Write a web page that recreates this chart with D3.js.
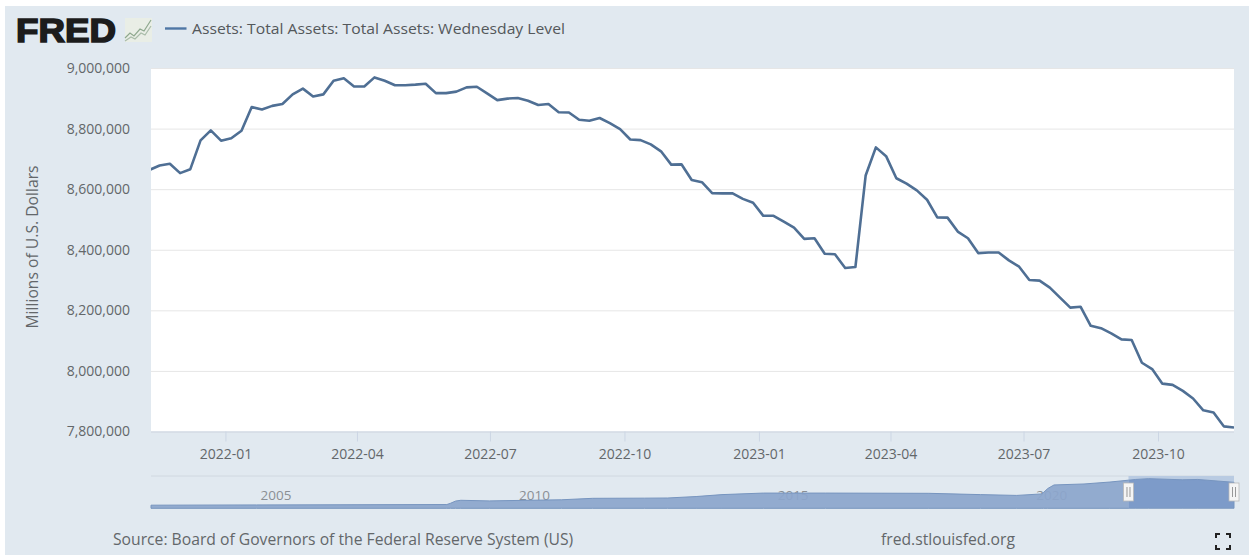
<!DOCTYPE html>
<html><head><meta charset="utf-8">
<script src="https://cdn.jsdelivr.net/npm/d3@7/dist/d3.min.js"></script>
<style>
html,body{margin:0;padding:0;background:#fff;overflow:hidden}
svg{display:block}
text{font-family:"Open Sans",sans-serif}
</style></head><body>
<svg id="c" width="1249" height="555"></svg>
<script>
// Weekly (Wednesday) level, millions of U.S. dollars, from 2021-11-10
const firstWeek = "2021-11-10";
const lastWeek = "2023-11-22";
const assets = [
8663600,8678000,8684000,8653000,8666000,8761000,8794000,8760000,8768000,8793000,
8871000,8863000,8875000,8881000,8913000,8932000,8906000,8913000,8958000,8966000,
8939000,8939000,8969000,8958000,8943000,8943000,8945000,8948000,8917000,8917000,
8922000,8936000,8938000,8916000,8894000,8899000,8901000,8892000,8878000,8881000,
8854000,8853000,8829000,8826000,8835000,8818000,8798000,8764000,8762000,8748000,
8725000,8681000,8682000,8630000,8623000,8587000,8586000,8586000,8568000,8555000,
8512000,8512000,8493000,8473000,8436000,8438000,8387000,8385000,8340000,8343000,
8645000,8738000,8709000,8636000,8618000,8596000,8565000,8507000,8506000,8460000,
8438000,8389000,8391000,8391000,8365000,8344000,8300000,8298000,8275000,8242000,
8209000,8212000,8149000,8141000,8124000,8104000,8102000,8027000,8006000,7958000,
7954000,7934000,7909000,7870000,7863000,7817000,7813000];
const yTicks = [7800000,8000000,8200000,8400000,8600000,8800000,9000000];
const xTickDates = ["2022-01-01","2022-04-01","2022-07-01","2022-10-01","2023-01-01","2023-04-01","2023-07-01","2023-10-01"];
// Navigator: long history, trillions of dollars
const navYears = [2002.96,2005,2008.68,2008.75,2008.85,2008.95,2009.5,2010.5,2010.9,2011.5,2012.5,2012.95,2013.5,2014,2014.8,2016,2018,2019,2019.7,2020.17,2020.22,2020.3,2020.42,2021,2021.5,2022,2022.25,2022.9,2023.2,2023.9];
const navValues = [0.72,0.80,0.92,1.3,2.0,2.24,2.05,2.3,2.4,2.85,2.9,2.95,3.4,4.0,4.48,4.48,4.4,4.0,3.75,4.2,4.7,5.9,7.0,7.3,7.9,8.7,8.95,8.6,8.7,7.81];
const navLabels = [2005,2010,2015,2020];
const navSelectedFrom = 2021.86;
const title = "Assets: Total Assets: Total Assets: Wednesday Level";
const yTitle = "Millions of U.S. Dollars";
const source = "Source: Board of Governors of the Federal Reserve System (US)";
const site = "fred.stlouisfed.org";

const svg = d3.select("#c");
const P = {l:151,r:1234,t:68,b:431.5};
const parse = d3.utcParse("%Y-%m-%d");
const weeks = d3.utcDay.range(parse(firstWeek), d3.utcDay.offset(parse(lastWeek),1), 7);
const x = d3.scaleUtc().domain([parse(firstWeek),parse(lastWeek)]).range([149.4,P.r]);
const y = d3.scaleLinear().domain([7800000,9000000]).range([P.b,P.t]);

const BG="#e1e9f0", TXT="#63676a";
svg.append("rect").attr("x",5).attr("y",6).attr("width",1244).attr("height",549).attr("fill",BG);
svg.append("rect").attr("x",P.l).attr("y",P.t).attr("width",P.r-P.l).attr("height",P.b-P.t).attr("fill","#fff");

// logo
svg.append("text").attr("x",16).attr("y",41.5)
  .style("font-family","'Liberation Sans',sans-serif")
  .attr("font-size",34).attr("font-weight",700).attr("fill","#1c1c1c").attr("stroke","#1c1c1c").attr("stroke-width",1.6)
  .attr("textLength",100).attr("lengthAdjust","spacingAndGlyphs").text("FRED");
const logo = svg.append("g").attr("transform","translate(125,18)");
logo.append("rect").attr("width",27).attr("height",24).attr("fill","#e9eee6");
logo.append("path").attr("d","M0 20 L5 15 L9 18 L15 11 L19 13 L26 2").attr("fill","none").attr("stroke","#8ea88e").attr("stroke-width",1.2);
logo.append("path").attr("d","M0 23 L6 19 L10 21 L16 15 L20 17 L26 8").attr("fill","none").attr("stroke","#a9bca9").attr("stroke-width",1.2);
svg.append("line").attr("x1",165).attr("x2",186.5).attr("y1",28.5).attr("y2",28.5).attr("stroke","#4f77a5").attr("stroke-width",2.4);
svg.append("text").attr("x",192).attr("y",34).attr("font-size",14.6).attr("font-weight",500).attr("fill","#54585b")
  .attr("textLength",373).attr("lengthAdjust","spacingAndGlyphs").text(title);

// y axis and grid
const gy = svg.append("g").attr("transform",`translate(${P.l},0)`)
  .call(d3.axisLeft(y).tickValues(yTicks).tickSize(-(P.r-P.l)).tickPadding(20).tickFormat(d3.format(",")));
gy.select(".domain").remove();
gy.selectAll(".tick line").attr("stroke","#e6e6e6").attr("stroke-width",1);
gy.selectAll("text").attr("fill",TXT).attr("font-size",14).attr("dx",-1).style("font-family","'Open Sans',sans-serif");
svg.append("text").attr("transform","translate(38,247) rotate(-90)").attr("text-anchor","middle")
  .attr("font-size",15.7).attr("fill",TXT).text(yTitle);

// x axis
const gx = svg.append("g").attr("transform",`translate(0,${P.b})`)
  .call(d3.axisBottom(x).tickValues(xTickDates.map(parse)).tickSizeInner(10).tickSizeOuter(0).tickPadding(8).tickFormat(d3.utcFormat("%Y-%m")));
gx.select(".domain").attr("stroke","#ccd6e4").attr("d",`M${P.l},0.5H${P.r}`);
gx.selectAll(".tick line").attr("stroke","#ccd6e4");
gx.selectAll("text").attr("fill",TXT).attr("font-size",14).style("font-family","'Open Sans',sans-serif");

// main line
svg.append("defs").append("clipPath").attr("id","pc").append("rect")
  .attr("x",P.l).attr("y",P.t).attr("width",P.r-P.l).attr("height",P.b-P.t+3);
svg.append("path").datum(assets).attr("clip-path","url(#pc)").attr("fill","none")
  .attr("stroke","#4f6f94").attr("stroke-width",2.6).attr("stroke-linejoin","round")
  .attr("d",d3.line().x((d,i)=>x(weeks[i])).y(d=>y(d)));

// navigator
const nx = d3.scaleLinear().domain([navYears[0],navYears[navYears.length-1]]).range([P.l,P.r]);
const ny = d3.scaleLinear().domain([0,9]).range([507.5,478.5]);
const N = {t:476,b:508.3};
svg.append("line").attr("x1",P.l).attr("x2",P.r).attr("y1",N.t).attr("y2",N.t).attr("stroke","#d0d8e0");
const pts = navYears.map((d,i)=>[d,navValues[i]]);
const area = d3.area().x(d=>nx(d[0])).y0(N.b).y1(d=>ny(d[1]));
const sx = nx(navSelectedFrom);
svg.append("g").selectAll("text").data(navLabels).join("text")
  .attr("x",d=>nx(d)+4).attr("y",500).attr("font-size",13.5).attr("fill","#8a8f94").text(d=>d);
svg.append("path").datum(pts).attr("fill","#8ca6cc").attr("fill-opacity",.93).attr("stroke","#7795bf").attr("stroke-width",1).attr("d",area);
svg.append("clipPath").attr("id","sel").append("rect").attr("x",sx).attr("y",N.t).attr("width",P.r-sx).attr("height",N.b-N.t);
svg.append("rect").attr("x",sx).attr("y",N.t).attr("width",P.r-sx).attr("height",N.b-N.t).attr("fill","#b9cbe2");
svg.append("path").datum(pts).attr("clip-path","url(#sel)").attr("fill","#7d9bc9").attr("stroke","#7795bf").attr("d",area);
[sx,P.r].forEach(hx=>{
  const h = svg.append("g").attr("transform",`translate(${hx},0)`);
  h.append("rect").attr("x",-5).attr("y",483).attr("width",10).attr("height",18).attr("fill","#f5f5f5").attr("stroke","#b8b8b8").attr("stroke-width",.8);
  h.append("path").attr("d","M-1.5 487V497M1.5 487V497").attr("stroke","#999").attr("stroke-width",1);
});

// footer
svg.append("text").attr("x",113).attr("y",545).attr("font-size",15.7).attr("fill",TXT).text(source);
svg.append("text").attr("x",881).attr("y",545).attr("font-size",15.7).attr("fill",TXT).text(site);
svg.append("path").attr("d","M1216 538V534H1220M1226 534H1230V538M1216 545V549H1220M1226 549H1230V545")
  .attr("fill","none").attr("stroke","#222").attr("stroke-width",2);
</script>
</body></html>
